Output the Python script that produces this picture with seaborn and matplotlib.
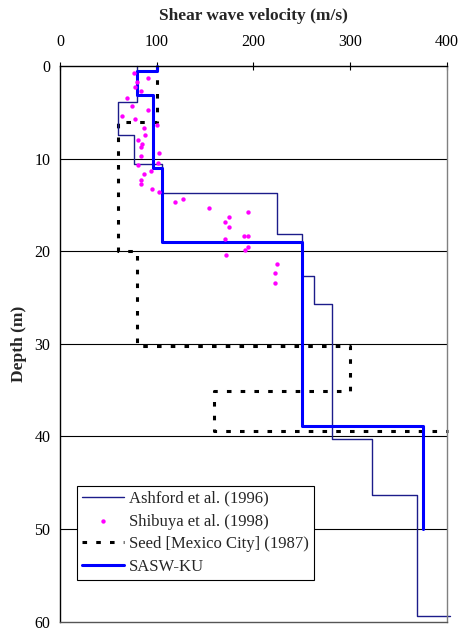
import matplotlib
matplotlib.use('Agg')
import matplotlib.pyplot as plt
import seaborn as sns
import pandas as pd

# step profiles: velocity (m/s) against depth (m)
ashford_vs = [80, 80, 60, 60, 76, 76, 105, 105, 224, 224, 250, 250, 263, 263, 281, 281, 322, 322, 369, 369, 403]
ashford_depth = [0, 3.85, 3.85, 7.4, 7.4, 10.6, 10.6, 13.7, 13.7, 18.1, 18.1, 22.7, 22.7, 25.7, 25.7, 40.3, 40.3, 46.3, 46.3, 59.4, 59.4]

seed_vs = [100, 100, 60, 60, 80, 80, 300, 300, 159, 159, 401]
seed_depth = [0, 6.0, 6.0, 20.0, 20.0, 30.2, 30.2, 35.1, 35.1, 39.4, 39.4]

sasw_vs = [100, 100, 80, 80, 96, 96, 105, 105, 250, 250, 375, 375]
sasw_depth = [0, 0.5, 0.5, 3.1, 3.1, 11.0, 11.0, 19.0, 19.0, 38.9, 38.9, 50.0]

# Shibuya et al. (1998) measured points
shibuya_vs = [76.5, 91, 79.3, 77.8, 84, 69.6, 74.4, 91, 63.8, 77.8, 100, 87.1, 88.2, 80.3,
              85.1, 83.7, 102.3, 83.7, 101.3, 80.3, 94.4, 87.1, 83.7, 83.7, 95.4, 102.3,
              118.9, 126.8, 153.7, 194.6, 174.7, 170.2, 174.7, 190.2, 194.6, 170.2, 194.6,
              191.2, 171.3, 224, 222.5, 222.5]
shibuya_depth = [0.72, 1.33, 1.69, 2.30, 2.66, 3.42, 4.28, 4.75, 5.36, 5.68, 6.33, 6.69, 7.41, 8.02,
                 8.45, 8.77, 9.39, 9.71, 10.43, 10.71, 11.33, 11.65, 12.3, 12.76, 13.27, 13.59,
                 14.67, 14.35, 15.35, 15.82, 16.32, 16.8, 17.4, 18.4, 18.4, 18.7, 19.5,
                 19.85, 20.46, 21.4, 22.4, 23.4]

sns.set_style('white')
plt.rcParams['font.family'] = ['Liberation Serif', 'DejaVu Serif']

fig = plt.figure(figsize=(4.6, 6.3), dpi=100)
ax = fig.add_axes([60 / 460, 1 - 621.5 / 630, 387 / 460, 555.5 / 630])

sns.lineplot(x=seed_vs, y=seed_depth, sort=False, estimator=None, ax=ax, color='black',
             lw=2.2, linestyle=(0, (1.5, 3)), label='Seed [Mexico City] (1987)')
sns.lineplot(x=ashford_vs, y=ashford_depth, sort=False, estimator=None, ax=ax, color='#1c1c8a',
             lw=1.0, label='Ashford et al. (1996)')
sns.lineplot(x=sasw_vs, y=sasw_depth, sort=False, estimator=None, ax=ax, color='#0000ff',
             lw=2.2, label='SASW-KU')
sns.scatterplot(x=shibuya_vs, y=shibuya_depth, ax=ax, color='#ff00ff', s=10, linewidth=0,
                label='Shibuya et al. (1998)', zorder=5)
for ln in ax.lines:
    ln.set_clip_on(False)

ax.set_xlim(0, 400)
ax.set_ylim(60, 0)
ax.set_xticks([0, 100, 200, 300, 400])
ax.set_yticks([0, 10, 20, 30, 40, 50, 60])
ax.xaxis.tick_top()
ax.xaxis.set_label_position('top')
ax.tick_params(axis='both', direction='inout', length=6, width=0.8, colors='black', labelsize=11.5)
ax.tick_params(axis='x', pad=8.5)
ax.tick_params(axis='y', pad=4)
ax.set_xlabel('Shear wave velocity (m/s)', fontsize=12.5, fontweight='bold', labelpad=10)
ax.set_ylabel('Depth (m)', fontsize=12.5, fontweight='bold', labelpad=5)

for d in [10, 20, 30, 40, 50]:
    ax.axhline(d, color='black', lw=0.8, zorder=0)

ax.spines['left'].set_color('black')
ax.spines['top'].set_color('black')
ax.spines['right'].set_color('#808080')
ax.spines['bottom'].set_color('#555555')
for s in ax.spines.values():
    s.set_linewidth(1.0)

h, l = ax.get_legend_handles_labels()
order = ['Ashford et al. (1996)', 'Shibuya et al. (1998)', 'Seed [Mexico City] (1987)', 'SASW-KU']
hd = dict(zip(l, h))
leg = ax.legend([hd[k] for k in order], order, loc='lower left', bbox_to_anchor=(0.044, 0.075),
                borderaxespad=0, fontsize=12, frameon=True, fancybox=False, framealpha=1,
                edgecolor='black', handlelength=2.5, handletextpad=0.3, labelspacing=0.4,
                borderpad=0.3, scatterpoints=1)
leg.get_frame().set_linewidth(0.8)
leg.set_zorder(10)

fig.savefig('out.png', dpi=100)
